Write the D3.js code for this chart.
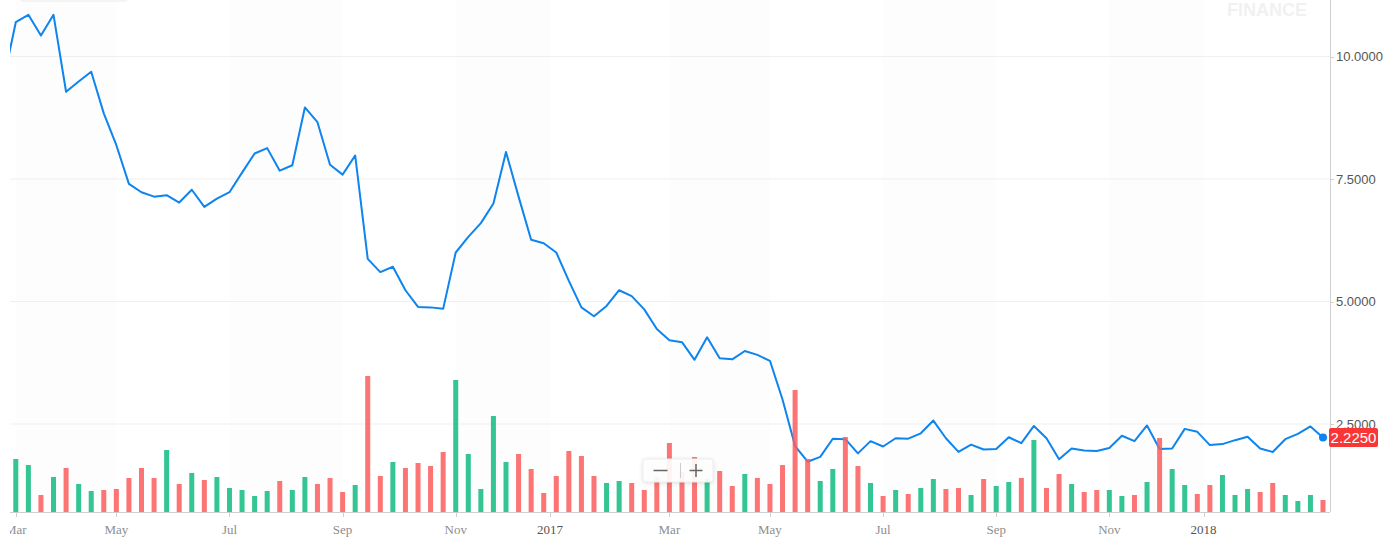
<!DOCTYPE html>
<html>
<head>
<meta charset="utf-8">
<script src="https://cdn.jsdelivr.net/npm/d3@7"></script>
<style>
  html, body { margin: 0; padding: 0; background: #fff; overflow: hidden; }
</style>
</head>
<body>
<div id="chart"></div>
<script>
// weekly bars, Monday of each week
const firstWeek = new Date(2016, 2, 7);
const lastWeek = new Date(2018, 2, 5);

// close of the week before the first one (off the left edge)
const prevClose = 9.49;

const closes = [
  10.70, 10.85, 10.43, 10.85, 9.28, 9.49, 9.69, 8.84, 8.19, 7.40,
  7.23, 7.14, 7.17, 7.02, 7.28, 6.93, 7.10, 7.23, 7.63, 8.02,
  8.13, 7.67, 7.78, 8.96, 8.66, 7.79, 7.59, 7.98, 5.87, 5.60,
  5.71, 5.23, 4.89, 4.88, 4.85, 6.00, 6.32, 6.60, 7.00, 8.05,
  7.14, 6.26, 6.19, 6.00, 5.42, 4.88, 4.70, 4.91, 5.23, 5.11,
  4.84, 4.44, 4.21, 4.17, 3.81, 4.27, 3.84, 3.82, 3.99, 3.91,
  3.79, 3.00, 2.05, 1.73, 1.83, 2.20, 2.19, 1.90, 2.15, 2.04,
  2.21, 2.20, 2.31, 2.57, 2.21, 1.93, 2.08, 1.98, 1.99, 2.23,
  2.11, 2.46, 2.21, 1.78, 2.00, 1.96, 1.95, 2.01, 2.26, 2.15,
  2.47, 1.99, 2.00, 2.40, 2.34, 2.07, 2.09, 2.17, 2.24, 2.00,
  1.93, 2.19, 2.30, 2.45, 2.225
];

// volume, millions
const volumes = [
  5.3, 4.7, 1.7, 3.5, 4.4, 2.8, 2.1, 2.2, 2.3, 3.4,
  4.4, 3.4, 6.2, 2.8, 3.9, 3.2, 3.5, 2.4, 2.2, 1.6,
  2.1, 3.1, 2.2, 3.5, 2.8, 3.4, 2.0, 2.7, 13.6, 3.6,
  5.0, 4.4, 4.9, 4.6, 6.0, 13.2, 5.8, 2.3, 9.6, 5.0,
  5.8, 4.3, 1.9, 3.6, 6.1, 5.6, 3.6, 2.9, 3.1, 2.9,
  2.2, 3.5, 6.9, 4.0, 5.5, 3.3, 4.1, 2.6, 3.8, 3.4,
  2.8, 4.7, 12.2, 5.3, 3.1, 4.3, 7.5, 4.6, 2.9, 1.6,
  2.2, 1.8, 2.4, 3.3, 2.3, 2.4, 1.7, 3.3, 2.6, 3.0,
  3.4, 7.2, 2.4, 3.8, 2.8, 2.0, 2.2, 2.2, 1.6, 1.7,
  3.0, 7.4, 4.3, 2.7, 1.8, 2.7, 3.7, 1.7, 2.3, 2.0,
  2.9, 1.7, 1.1, 1.7, 1.2
];

const tickMonths = [
  '2016-03', '2016-05', '2016-07', '2016-09', '2016-11',
  '2017-01', '2017-03', '2017-05', '2017-07', '2017-09', '2017-11',
  '2018-01'
];
const priceTicks = [2.5, 5, 7.5, 10];
const lastPrice = 2.225;

const W = 1384, H = 546;
const plotLeft = 10, plotRight = 1330, plotBottom = 512;

const weeks = d3.timeMonday.range(firstWeek, d3.timeDay.offset(lastWeek, 1));

const x = d3.scaleLinear().domain([0, weeks.length - 1]).range([15.8, 1323]);
const y = d3.scaleLinear().domain([0, 10]).range([546.5, 56.5]);
const yVol = d3.scaleLinear().domain([0, 13.6]).range([0, 136]);

const parseMonth = d3.timeParse('%Y-%m');
const ticks = tickMonths.map(m => {
  const d = parseMonth(m);
  const i = weeks.findIndex(w => w.getFullYear() === d.getFullYear() && w.getMonth() === d.getMonth());
  const isYear = d.getMonth() === 0;
  return {
    pos: isYear ? i - 0.5 : i,
    label: isYear ? d3.timeFormat('%Y')(d) : d3.timeFormat('%b')(d),
    isYear
  };
});

const svg = d3.select('#chart').append('svg')
  .attr('width', W)
  .attr('height', H)
  .style('display', 'block')
  .style('font-family', '"Liberation Sans", Arial, sans-serif');

svg.append('defs').append('clipPath').attr('id', 'plot')
  .append('rect')
  .attr('x', plotLeft).attr('y', 0)
  .attr('width', plotRight - plotLeft).attr('height', H);

const plot = svg.append('g').attr('clip-path', 'url(#plot)');

// faint alternating bands between month ticks
const bandEdges = ticks.map(t => x(t.pos));
for (let k = 0; k < bandEdges.length - 1; k += 2) {
  plot.append('rect')
    .attr('x', bandEdges[k]).attr('y', 0)
    .attr('width', bandEdges[k + 1] - bandEdges[k])
    .attr('height', plotBottom)
    .attr('fill', '#fdfdfd');
}

// gridlines
plot.append('g').selectAll('line').data(priceTicks).join('line')
  .attr('x1', plotLeft).attr('x2', plotRight)
  .attr('y1', d => y(d)).attr('y2', d => y(d))
  .attr('stroke', '#efefef').attr('stroke-width', 1);

// watermark
svg.append('text')
  .attr('x', 1307).attr('y', 16)
  .attr('text-anchor', 'end')
  .attr('font-size', 18).attr('font-weight', 'bold')
  .attr('fill', '#f1f1f1')
  .text('FINANCE');

// cut-off legend box at top
svg.append('rect')
  .attr('x', 20.5).attr('y', -30).attr('width', 107).attr('height', 31)
  .attr('rx', 3).attr('fill', '#fff').attr('stroke', '#eaeaea');

// price line (includes the week before, clipped away)
const linePts = [[-1, prevClose]].concat(closes.map((c, i) => [i, c]));
plot.append('path')
  .datum(linePts)
  .attr('fill', 'none')
  .attr('stroke', '#0d84ee')
  .attr('stroke-width', 2)
  .attr('stroke-linejoin', 'round')
  .attr('d', d3.line().x(d => x(d[0])).y(d => y(d[1])));

// volume bars
plot.append('g').selectAll('rect').data(volumes).join('rect')
  .attr('x', (d, i) => x(i) - 2.5)
  .attr('y', d => plotBottom - yVol(d))
  .attr('width', 5)
  .attr('height', d => yVol(d))
  .attr('fill', (d, i) => {
    const prev = i === 0 ? prevClose : closes[i - 1];
    return closes[i] >= prev ? '#0fbb7f' : '#fb5c5c';
  })
  .attr('fill-opacity', 0.85);

// x axis
svg.append('line')
  .attr('x1', plotLeft).attr('x2', plotRight)
  .attr('y1', plotBottom + 0.5).attr('y2', plotBottom + 0.5)
  .attr('stroke', '#cfcfcf');

const xAxis = svg.append('g').attr('clip-path', 'url(#plot)');
xAxis.selectAll('line').data(ticks).join('line')
  .attr('x1', d => Math.round(x(d.pos)) + 0.5).attr('x2', d => Math.round(x(d.pos)) + 0.5)
  .attr('y1', plotBottom).attr('y2', plotBottom + 5)
  .attr('stroke', '#cfcfcf');
xAxis.selectAll('text').data(ticks).join('text')
  .attr('x', d => x(d.pos))
  .attr('y', 534)
  .attr('text-anchor', 'middle')
  .attr('font-family', '"Liberation Serif", "Times New Roman", serif')
  .attr('font-size', 13)
  .attr('fill', d => d.isYear ? '#555' : '#8e8e8e')
  .text(d => d.label);

// right axis
svg.append('line')
  .attr('x1', plotRight + 0.5).attr('x2', plotRight + 0.5)
  .attr('y1', 0).attr('y2', plotBottom)
  .attr('stroke', '#cfcfcf');

const yAxis = svg.append('g');
yAxis.selectAll('line').data(priceTicks).join('line')
  .attr('x1', plotRight).attr('x2', plotRight + 4)
  .attr('y1', d => Math.round(y(d)) + 0.5).attr('y2', d => Math.round(y(d)) + 0.5)
  .attr('stroke', '#cfcfcf');
yAxis.selectAll('text').data(priceTicks).join('text')
  .attr('x', 1336)
  .attr('y', d => y(d))
  .attr('dy', '0.35em')
  .attr('font-size', 13)
  .attr('fill', '#555')
  .text(d => d3.format('.4f')(d));

// last price marker
const lastX = x(closes.length - 1), lastY = y(lastPrice);
svg.append('circle')
  .attr('cx', lastX).attr('cy', lastY).attr('r', 4)
  .attr('fill', '#0d84ee');
svg.append('rect')
  .attr('x', 1329).attr('y', lastY - 9.5)
  .attr('width', 49).attr('height', 19)
  .attr('rx', 2)
  .attr('fill', '#fa3535');
svg.append('text')
  .attr('x', 1353.5).attr('y', lastY)
  .attr('dy', '0.36em')
  .attr('text-anchor', 'middle')
  .attr('font-size', 15)
  .attr('fill', '#fff')
  .text(d3.format('.4f')(lastPrice));

// zoom control
const zc = svg.append('g').attr('transform', 'translate(643,459)');
zc.append('rect')
  .attr('width', 70).attr('height', 23).attr('rx', 3)
  .attr('fill', 'rgba(255,255,255,0.92)')
  .attr('stroke', '#eeeeee')
  .style('filter', 'drop-shadow(0 1px 2px rgba(0,0,0,0.12))');
zc.append('line')
  .attr('x1', 10.5).attr('x2', 24.5).attr('y1', 11.5).attr('y2', 11.5)
  .attr('stroke', '#666').attr('stroke-width', 1.5);
zc.append('line')
  .attr('x1', 37.5).attr('x2', 37.5).attr('y1', 4).attr('y2', 19)
  .attr('stroke', '#ccc');
zc.append('line')
  .attr('x1', 46.5).attr('x2', 59.5).attr('y1', 11.5).attr('y2', 11.5)
  .attr('stroke', '#666').attr('stroke-width', 1.5);
zc.append('line')
  .attr('x1', 53).attr('x2', 53).attr('y1', 5).attr('y2', 18)
  .attr('stroke', '#666').attr('stroke-width', 1.5);
</script>
</body>
</html>
